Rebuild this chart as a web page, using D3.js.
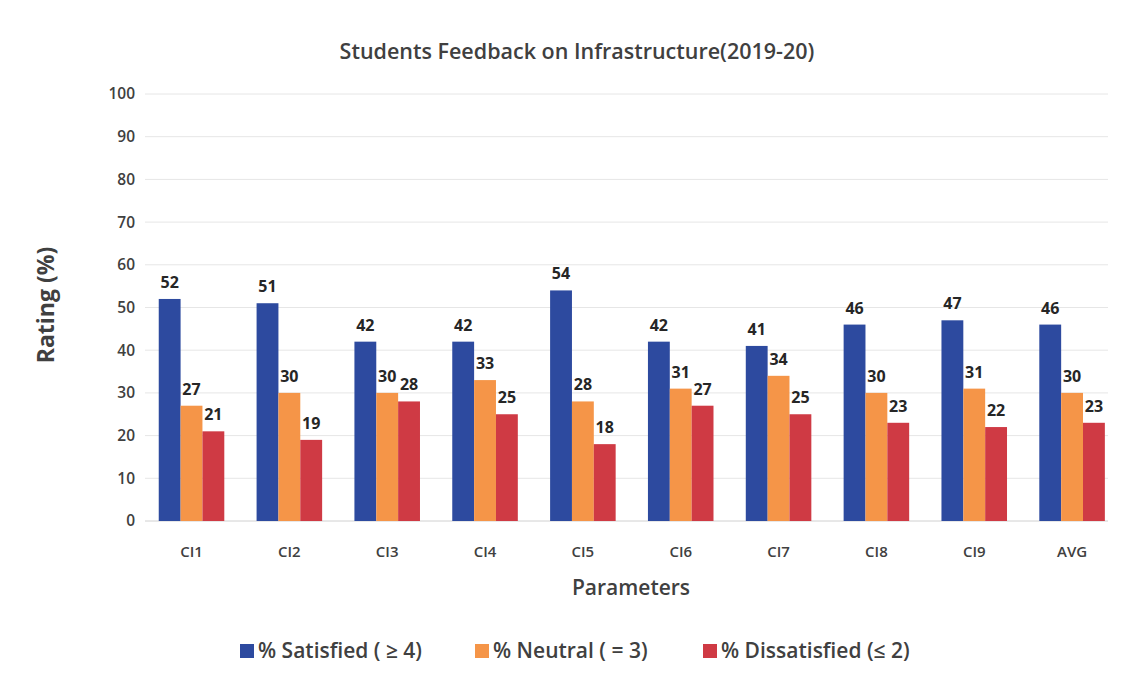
<!DOCTYPE html>
<html>
<head>
<meta charset="utf-8">
<script src="https://cdn.jsdelivr.net/npm/d3@7"></script>
<style>
  body { margin: 0; background: #fff; }
  text { font-family: "Open Sans", "Noto Sans", sans-serif; }
</style>
</head>
<body>
<div id="chart"></div>
<script>
var categories = ["CI1", "CI2", "CI3", "CI4", "CI5", "CI6", "CI7", "CI8", "CI9", "AVG"];
var satisfied = [52, 51, 42, 42, 54, 42, 41, 46, 47, 46];
var neutral = [27, 30, 30, 33, 28, 31, 34, 30, 31, 30];
var dissatisfied = [21, 19, 28, 25, 18, 27, 25, 23, 22, 23];
var seriesNames = ["% Satisfied ( \u2265 4)", "% Neutral  ( = 3)", "% Dissatisfied (\u2264 2)"];
var yTicks = [0, 10, 20, 30, 40, 50, 60, 70, 80, 90, 100];

var width = 1128;
var height = 679;
var colors = ["#2d4a9f", "#f59548", "#cf3a44"];
var series = [satisfied, neutral, dissatisfied];

var svg = d3.select("#chart")
    .append("svg")
    .attr("width", width)
    .attr("height", height);

var x = d3.scaleBand()
    .domain(categories)
    .range([142.6, 1121])
    .paddingInner(0.33)
    .paddingOuter(0.165);

var xSub = d3.scaleBand()
    .domain([0, 1, 2])
    .range([0, x.bandwidth()]);

var y = d3.scaleLinear()
    .domain([0, 100])
    .range([521, 94]);

// gridlines
svg.append("g")
    .selectAll("line")
    .data(yTicks)
    .enter()
    .append("line")
    .attr("x1", 145)
    .attr("x2", 1108)
    .attr("y1", function (d) { return y(d); })
    .attr("y2", function (d) { return y(d); })
    .attr("stroke", function (d) { return d === 0 ? "#d0d0d0" : "#e6e6e6"; })
    .attr("stroke-width", 1);

// y tick labels
svg.append("g")
    .selectAll("text")
    .data(yTicks)
    .enter()
    .append("text")
    .attr("x", 135)
    .attr("y", function (d) { return y(d); })
    .attr("dy", "0.35em")
    .attr("text-anchor", "end")
    .attr("font-size", 15.5)
    .attr("font-weight", 600)
    .attr("fill", "#404040")
    .text(function (d) { return d; });

// bars
var groups = svg.selectAll(".group")
    .data(categories)
    .enter()
    .append("g")
    .attr("class", "group")
    .attr("transform", function (d) { return "translate(" + x(d) + ",0)"; });

series.forEach(function (values, s) {
    groups.append("rect")
        .attr("x", xSub(s))
        .attr("width", xSub.bandwidth())
        .attr("y", function (d, i) { return y(values[i]); })
        .attr("height", function (d, i) { return y(0) - y(values[i]); })
        .attr("fill", colors[s]);

    groups.append("text")
        .attr("x", xSub(s) + xSub.bandwidth() / 2)
        .attr("y", function (d, i) { return y(values[i]) - 11; })
        .attr("text-anchor", "middle")
        .attr("font-size", 16)
        .attr("font-weight", 700)
        .attr("fill", "#262626")
        .text(function (d, i) { return values[i]; });
});

// x tick labels
svg.append("g")
    .selectAll("text")
    .data(categories)
    .enter()
    .append("text")
    .attr("x", function (d) { return x(d) + x.bandwidth() / 2; })
    .attr("y", 557)
    .attr("text-anchor", "middle")
    .attr("font-size", 15)
    .attr("font-weight", 600)
    .attr("fill", "#404040")
    .text(function (d) { return d; });

// title
svg.append("text")
    .attr("x", 577)
    .attr("y", 59)
    .attr("text-anchor", "middle")
    .attr("font-size", 21.5)
    .attr("font-weight", 600)
    .attr("fill", "#404040")
    .text("Students Feedback on Infrastructure(2019-20)");

// axis titles
svg.append("text")
    .attr("transform", "translate(54,305) rotate(-90)")
    .attr("text-anchor", "middle")
    .attr("font-size", 23)
    .attr("font-weight", 700)
    .attr("fill", "#404040")
    .text("Rating (%)");

svg.append("text")
    .attr("x", 631)
    .attr("y", 595)
    .attr("text-anchor", "middle")
    .attr("font-size", 21)
    .attr("font-weight", 600)
    .attr("fill", "#404040")
    .text("Parameters");

// legend
var legendX = [240, 475, 703];
var legend = svg.selectAll(".legend")
    .data(seriesNames)
    .enter()
    .append("g")
    .attr("class", "legend")
    .attr("transform", function (d, i) { return "translate(" + legendX[i] + ",651)"; });

legend.append("rect")
    .attr("x", 0)
    .attr("y", -7)
    .attr("width", 14)
    .attr("height", 14)
    .attr("fill", function (d, i) { return colors[i]; });

legend.append("text")
    .attr("x", 18)
    .attr("y", 0)
    .attr("dy", "0.35em")
    .attr("font-size", 21)
    .attr("font-weight", 600)
    .attr("fill", "#404040")
    .text(function (d) { return d; });
</script>
</body>
</html>
